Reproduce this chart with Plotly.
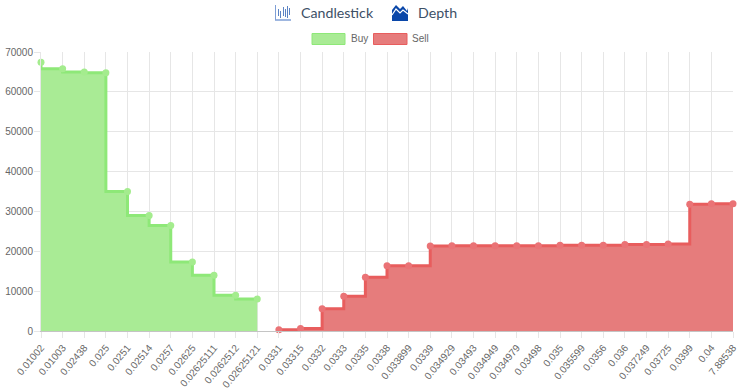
import plotly.graph_objects as go

buy_labels = ["0.01002","0.01003","0.02438","0.025","0.0251","0.02514","0.0257","0.02625","0.02625111","0.0262512","0.02625121"]
sell_labels = ["0.0331","0.03315","0.0332","0.0333","0.0335","0.0338","0.033899","0.0339","0.034929","0.03493","0.034949","0.034979","0.03498","0.035","0.035599","0.0356","0.036","0.037249","0.03725","0.0399","0.04","7.88538"]
buy_values = [67400,65800,65000,64800,35000,29000,26500,17300,14000,9000,8000]
sell_values = [300,600,5600,8700,13500,16400,16400,21300,21400,21400,21400,21400,21400,21500,21500,21500,21700,21700,21800,31800,31900,31900]
y_ticks = [0,10000,20000,30000,40000,50000,60000,70000]

W, H = 745, 390
L, R, T, B = 41, 12, 52, 59
FONT = "Liberation Sans, Arial, sans-serif"
GREEN = "#8ee878"
RED = "#e85d5d"; RED_FILL = "#e67c7c"
labels = buy_labels + sell_labels

fig = go.Figure()
fig.add_trace(go.Scatter(x=buy_labels, y=buy_values, name="Buy", mode="lines+markers",
    line=dict(shape="vh", color=GREEN, width=3), marker=dict(size=7, color="#a4ec8e"),
    fill="tozeroy", fillcolor="#a9eb95", cliponaxis=False))
fig.add_trace(go.Scatter(x=sell_labels, y=sell_values, name="Sell", mode="lines+markers",
    line=dict(shape="hv", color=RED, width=3), marker=dict(size=7, color="#ea7376"),
    fill="tozeroy", fillcolor=RED_FILL, cliponaxis=False))

def ix(x): return (x-L)/(W-L-R)
def iy(y): return (H-B-y)/(H-T-B)
shapes = []
def rect(x0, y0, x1, y1, fill, line):
    shapes.append(dict(type="rect", xref="paper", yref="paper", x0=ix(x0), x1=ix(x1),
                       y0=iy(y0), y1=iy(y1), fillcolor=fill, line=dict(color=line, width=1)))
rect(312, 33.5, 345, 44.5, "#a9eb95", GREEN)
rect(373.5, 33.5, 407, 44.5, RED_FILL, RED)

# title icons
for x, y0, y1 in [(278.5,9,16),(280.5,11,18),(283.5,7,16),(285.5,9,17),(287.5,6,18),(289.5,8,15)]:
    shapes.append(dict(type="line", xref="paper", yref="paper", x0=ix(x), x1=ix(x), y0=iy(y0), y1=iy(y1),
                       line=dict(color="#5c84c4", width=1)))
shapes.append(dict(type="line", xref="paper", yref="paper", x0=ix(275), x1=ix(291), y0=iy(20), y1=iy(20),
                   line=dict(color="#7f9fd6", width=1.5)))
shapes.append(dict(type="line", xref="paper", yref="paper", x0=ix(275.5), x1=ix(275.5), y0=iy(5), y1=iy(20),
                   line=dict(color="#7f9fd6", width=1)))
shapes.append(dict(type="path", xref="paper", yref="paper",
    path="M " + " L ".join(f"{ix(a)},{iy(b)}" for a, b in [(392,21),(392,10),(396,5),(400,9),(403,6),(407,11),(408,8),(408,21)]) + " Z",
    fillcolor="#0a47a9", line=dict(width=0)))
shapes.append(dict(type="path", xref="paper", yref="paper",
    path="M " + " L ".join(f"{ix(a)},{iy(b)}" for a, b in [(392,15),(396,9),(400,13),(403,10),(408,14)]),
    line=dict(color="white", width=1.2)))

ann = []
def text(x, y, s, size, color):
    ann.append(dict(text=s, xref="paper", yref="paper", x=ix(x), y=iy(y), xanchor="left", yanchor="middle",
                    showarrow=False, xshift=0, font=dict(family=FONT if size < 14 else "Lato, Open Sans, sans-serif", size=size, color=color)))
text(348.5, 38.5, "Buy", 10, "#666666")
text(410, 38.5, "Sell", 10, "#666666")
text(298.5, 12.5, "Candlestick", 14.2, "#3d5066")
text(415.5, 12.5, "Depth", 14.2, "#3d5066")

fig.update_layout(width=W, height=H, autosize=False, showlegend=False, plot_bgcolor="white", paper_bgcolor="white",
    margin=dict(l=L, r=R, t=T, b=B, pad=0), shapes=shapes, annotations=ann, font=dict(family=FONT, size=10, color="#666666"),
    xaxis=dict(type="category", categoryorder="array", categoryarray=labels, range=[0, len(labels)-1], automargin=False,
               tickangle=-50, tickfont=dict(size=10, color="#666666"), showgrid=True, gridcolor="#e6e6e6",
               ticks="outside", ticklen=6, tickcolor="#e6e6e6", showline=True, linecolor="#c4c4c4", zeroline=False,
               tickmode="array", tickvals=labels, ticktext=labels),
    yaxis=dict(range=[0,70000], automargin=False, tickvals=y_ticks, ticktext=[str(v) for v in y_ticks], tickfont=dict(size=10, color="#666666"),
               showgrid=True, gridcolor="#e6e6e6", ticks="outside", ticklen=6, tickcolor="#e6e6e6", ticklabelstandoff=-1,
               showline=True, linecolor="#e6e6e6", zeroline=False))
fig.write_html("out.html", config=dict(displayModeBar=False),
               post_script="document.documentElement.style.margin='0';document.body.style.margin='0';document.body.style.overflow='hidden';")
